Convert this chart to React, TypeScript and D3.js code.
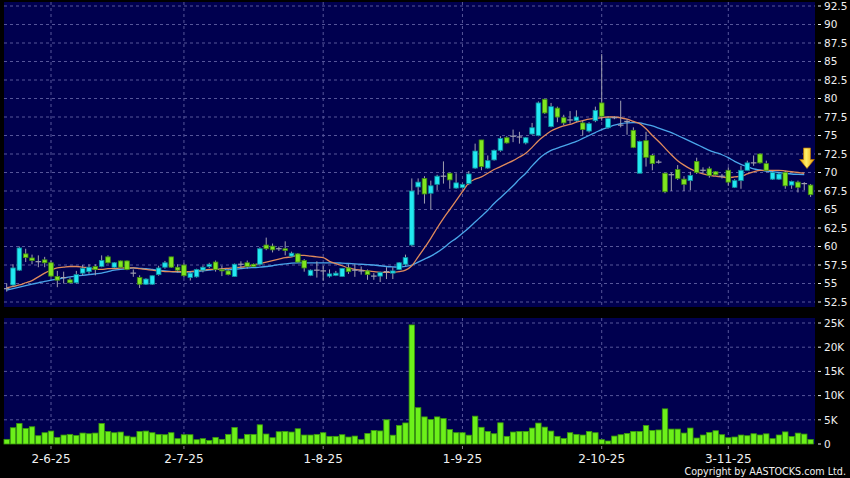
import React from "react";
import * as d3 from "d3";

// ---------- data ----------
const opens = [
  54.3, 54.8, 56.8, 59.0, 58.45, 57.95, 58.2, 57.8, 55.95, 55.8,
  55.5, 55.1, 56.4, 56.6, 57.3, 57.3, 58.6, 57.2, 58.05, 58.05,
  56.4, 55.8, 54.9, 54.9, 56.2, 57.2, 58.6, 57.2, 57.5, 55.8,
  55.9, 56.8, 57.3, 57.9, 56.9, 56.7, 55.95, 57.6, 57.8, 57.6,
  57.6, 60.2, 60.05, 59.7, 59.7, 58.7, 59.0, 58.1, 56.1, 56.8,
  56.7, 56.0, 56.1, 55.95, 57.1, 56.8, 56.7, 56.7, 56.0, 56.0,
  56.6, 56.4, 56.9, 57.6, 60.2, 68.05, 69.2, 67.2, 68.4, 69.5,
  69.9, 67.9, 67.95, 68.5, 70.6, 74.4, 70.6, 71.7, 73.0, 74.7,
  74.9, 74.8, 74.0, 75.2, 75.0, 79.9, 76.2, 78.7, 77.4, 77.1,
  77.0, 76.7, 75.6, 77.0, 79.4, 76.05, 77.4, 76.4, 76.9, 75.7,
  69.9, 74.3, 72.3, 71.4, 69.9, 69.7, 70.4, 69.1, 68.9, 71.5,
  70.3, 70.5, 70.1, 69.5, 70.3, 68.0, 68.9, 70.3, 71.3, 72.5,
  71.2, 69.1, 69.1, 70.0, 68.3, 68.7, 68.5, 68.3,
];
const highs = [
  55.0, 57.6, 60.0, 59.7, 58.9, 58.8, 58.6, 58.1, 56.7, 56.6,
  55.8, 56.7, 57.5, 57.6, 57.6, 58.8, 58.8, 57.9, 58.1, 58.1,
  56.9, 56.1, 55.7, 56.1, 57.4, 58.05, 58.6, 57.6, 57.8, 56.7,
  57.0, 57.4, 57.8, 58.1, 57.4, 56.9, 57.7, 58.0, 58.1, 57.7,
  59.9, 61.2, 60.4, 60.0, 60.7, 59.3, 59.1, 58.3, 56.9, 58.0,
  57.4, 56.9, 56.7, 57.1, 57.6, 57.6, 57.3, 56.9, 56.4, 56.6,
  57.2, 57.2, 57.9, 58.9, 69.2, 69.2, 69.5, 68.9, 69.7, 71.5,
  70.0, 69.9, 68.5, 70.2, 73.9, 74.4, 72.3, 73.1, 74.9, 74.9,
  75.8, 75.5, 74.8, 76.7, 79.6, 79.9, 79.4, 78.9, 77.8, 78.3,
  78.4, 77.0, 76.8, 78.9, 86.0, 77.6, 77.6, 79.7, 77.2, 76.1,
  74.3, 75.5, 72.5, 71.7, 70.0, 70.0, 71.0, 69.5, 70.1, 72.0,
  70.7, 70.8, 70.2, 69.8, 70.7, 69.1, 70.9, 71.6, 72.3, 72.6,
  71.6, 70.2, 70.0, 70.2, 68.9, 68.9, 68.7, 68.45,
];
const lows = [
  53.9, 54.5, 56.7, 57.9, 57.6, 57.2, 57.2, 55.8, 54.5, 55.0,
  55.0, 55.0, 56.1, 56.3, 56.1, 57.2, 57.7, 57.1, 57.1, 56.8,
  55.9, 54.4, 54.8, 54.8, 56.05, 57.0, 57.1, 56.5, 55.8, 55.4,
  55.8, 56.5, 57.1, 56.6, 56.0, 56.1, 55.9, 57.0, 57.0, 57.2,
  57.4, 59.5, 59.2, 59.4, 58.8, 58.6, 57.8, 56.6, 56.0, 55.8,
  55.4, 55.8, 56.0, 55.9, 56.3, 55.9, 56.2, 55.5, 55.5, 55.2,
  55.6, 55.6, 56.8, 57.4, 60.0, 67.0, 65.8, 65.0, 67.6, 68.5,
  67.8, 67.8, 67.9, 68.3, 70.5, 70.3, 70.5, 71.6, 72.8, 73.9,
  74.1, 73.9, 73.8, 75.1, 74.9, 77.9, 76.1, 76.8, 76.4, 76.6,
  76.8, 75.0, 75.4, 76.8, 77.0, 75.9, 77.2, 76.1, 75.1, 73.3,
  69.9, 70.8, 70.3, 71.2, 67.2, 67.5, 69.0, 67.5, 67.6, 69.8,
  69.9, 69.3, 69.6, 69.2, 68.2, 67.9, 67.8, 70.3, 70.9, 71.2,
  70.1, 69.0, 69.0, 67.8, 67.8, 67.3, 67.6, 66.7,
];
const closes = [
  54.3, 57.1, 59.8, 58.5, 58.1, 57.95, 57.8, 56.0, 55.45, 55.8,
  55.1, 56.2, 57.05, 57.2, 56.9, 58.1, 57.8, 57.8, 57.2, 56.9,
  56.4, 54.9, 55.6, 56.05, 57.1, 57.8, 57.2, 56.8, 56.05, 56.4,
  56.9, 57.2, 57.6, 56.9, 56.7, 56.2, 57.6, 57.6, 57.3, 57.3,
  59.7, 59.7, 59.55, 59.7, 59.45, 59.1, 57.9, 57.1, 56.8, 56.8,
  56.7, 56.3, 56.4, 57.05, 56.6, 56.8, 56.7, 56.2, 56.0, 56.5,
  56.6, 56.7, 57.8, 58.5, 67.5, 68.7, 67.1, 68.2, 69.5, 69.5,
  69.0, 68.6, 68.4, 69.8, 72.9, 70.8, 71.6, 73.0, 74.6, 74.0,
  74.9, 74.8, 74.7, 76.05, 79.4, 78.05, 78.9, 77.5, 76.7, 77.1,
  77.5, 75.8, 76.6, 78.4, 77.6, 77.3, 77.4, 76.4, 76.9, 73.4,
  74.2, 72.05, 71.2, 71.4, 67.4, 69.7, 69.2, 68.4, 69.6, 70.0,
  70.3, 69.6, 69.7, 69.5, 68.7, 68.9, 70.3, 71.3, 71.3, 71.3,
  70.3, 70.0, 69.8, 68.2, 68.8, 68.0, 68.5, 67.0,
];
// volume in thousands of shares
const volumes = [
  0.96, 3.36, 4.25, 3.22, 3.56, 1.71, 2.33, 2.67, 1.37, 1.85,
  1.99, 1.78, 2.26, 2.12, 2.26, 4.25, 2.6, 2.33, 2.47, 1.64,
  1.44, 2.6, 2.67, 2.33, 1.99, 1.92, 2.33, 1.1, 1.92, 1.92,
  0.89, 1.1, 0.75, 1.37, 0.96, 1.99, 3.43, 1.03, 1.99, 1.99,
  3.97, 2.06, 1.3, 2.53, 2.6, 2.47, 3.15, 1.85, 1.85, 1.99,
  2.33, 1.58, 1.58, 1.92, 1.44, 1.64, 0.89, 2.19, 2.8, 2.7,
  5.0, 1.82, 3.85, 4.35, 24.6, 7.5, 5.6, 5.05, 5.6, 5.25,
  2.98, 2.33, 2.33, 1.82, 5.75, 3.45, 2.6, 2.12, 4.38, 1.58,
  2.47, 2.6, 2.6, 3.29, 4.32, 3.49, 2.67, 1.58, 1.16, 2.33,
  1.99, 1.85, 2.6, 2.33, 0.89, 0.62, 1.64, 1.92, 2.19, 2.6,
  2.6, 3.84, 2.81, 2.9, 7.26, 3.08, 3.08, 2.26, 3.29, 1.23,
  1.85, 2.4, 2.74, 1.92, 1.3, 1.44, 1.85, 1.71, 2.12, 1.86,
  2.1, 1.1, 1.86, 2.5, 1.55, 2.25, 2.05, 0.93,
];
// moving averages as drawn (fast = orange, slow = blue)
const maFast = [
  54.4, 54.6, 54.8, 55.1, 55.4, 55.9, 56.4, 56.8, 57.1, 57.2,
  57.3, 57.3, 57.2, 57.1, 56.9, 56.9, 57.0, 57.0, 57.1, 57.1,
  57.1, 57.0, 56.9, 56.8, 56.7, 56.6, 56.6, 56.6, 56.6, 56.6,
  56.7, 56.8, 56.9, 56.9, 57.0, 57.05, 57.1, 57.2, 57.3, 57.5,
  57.7, 57.9, 58.1, 58.3, 58.5, 58.6, 58.8, 58.8, 58.7, 58.6,
  58.5, 58.0, 57.7, 57.4, 57.1, 56.9, 56.8, 56.7, 56.6, 56.5,
  56.5, 56.5, 56.6, 56.8, 57.4, 58.6, 59.8, 61.1, 62.5, 63.8,
  65.0, 66.2, 67.4, 68.6, 69.1, 69.4, 69.9, 70.4, 70.8, 71.2,
  71.6, 72.1, 72.6, 73.4, 74.3, 75.0, 75.6, 76.0, 76.3, 76.5,
  76.8, 77.0, 77.2, 77.3, 77.4, 77.5, 77.5, 77.4, 77.2, 76.9,
  76.6, 75.9, 75.0, 74.2, 73.3, 72.4, 71.6, 71.0, 70.5, 70.1,
  69.8, 69.6, 69.5, 69.4, 69.3, 69.4, 69.5, 69.8, 70.1, 70.3,
  70.3, 70.3, 70.3, 70.2, 70.1, 70.0, 69.9,
];
const maSlow = [
  54.1, 54.3, 54.5, 54.7, 54.9, 55.1, 55.3, 55.45, 55.6, 55.75,
  55.9, 56.0, 56.1, 56.2, 56.3, 56.4, 56.6, 56.8, 56.9, 57.0,
  57.1, 57.05, 57.0, 56.9, 56.8, 56.7, 56.6, 56.55, 56.5, 56.55,
  56.6, 56.7, 56.8, 56.9, 56.9, 56.85, 56.9, 57.0, 57.1, 57.15,
  57.2, 57.3, 57.4, 57.55, 57.65, 57.75, 57.8, 57.8, 57.8, 57.8,
  57.8, 57.8, 57.8, 57.75, 57.7, 57.65, 57.6, 57.55, 57.5, 57.4,
  57.3, 57.25, 57.2, 57.3, 57.5, 57.9, 58.3, 58.7, 59.2, 59.8,
  60.5, 61.1, 61.8, 62.5, 63.3, 64.1, 64.9, 65.8, 66.6, 67.4,
  68.2, 69.1, 69.9, 70.9, 71.8, 72.5, 73.0, 73.3, 73.6, 73.9,
  74.2, 74.6, 75.0, 75.4, 75.8, 76.1, 76.4, 76.6, 76.7, 76.75,
  76.7, 76.5, 76.3, 76.0, 75.7, 75.4, 75.0, 74.6, 74.2, 73.8,
  73.4, 73.0, 72.7, 72.4, 72.0, 71.5, 71.1, 70.8, 70.5, 70.35,
  70.2, 70.1, 70.0, 69.9, 69.8, 69.75, 69.7,
];
const dateLabels = ["2-6-25", "2-7-25", "1-8-25", "1-9-25", "2-10-25", "3-11-25"];
const dateIndex = [7, 28, 50, 72, 94, 114];
const priceTicks = [52.5, 55, 57.5, 60, 62.5, 65, 67.5, 70, 72.5, 75, 77.5, 80, 82.5, 85, 87.5, 90, 92.5];
const volumeTicks = [0, 5, 10, 15, 20, 25];
const volumeTickLabels = ["0", "5K", "10K", "15K", "20K", "25K"];
const copyright = "Copyright by AASTOCKS.com Ltd.";

// ---------- layout ----------
const W = 850;
const H = 478;
const plotLeft = 4;
const plotRight = 815;
const mainTop = 2;
const mainBottom = 307;
const volTop = 318;
const volBottom = 444;

const BG = "#000000";
const PANEL = "#00004f";
const GRID = "#56569a";
const UP_FILL = "#22e8f2";
const UP_STROKE = "#0d8d9c";
const DOWN_FILL = "#80e620";
const DOWN_STROKE = "#3e8a10";
const WICK = "#a0a0b0";
const VOL_FILL = "#6cf01a";
const VOL_STROKE = "#3a9a0a";
const TEXT = "#f0f0f0";
const FONT = "'DejaVu Sans', Verdana, sans-serif";

export default function App() {
  const n = closes.length;
  const x = d3.scaleLinear().domain([0, n - 1]).range([6.7, 810.6]);
  const y = d3.scaleLinear().domain([52.5, 92.5]).range([302, 6]);
  const yv = d3.scaleLinear().domain([0, 25]).range([volBottom, 323]);
  const bodyW = 4.6;
  const volW = 5.4;

  const lineFast = d3
    .line<number>()
    .x((_, i) => x(i))
    .y((d) => y(d))
    .curve(d3.curveMonotoneX);

  return (
    <div style={{ position: "fixed", left: 0, top: 0, width: W, height: H, background: BG }}>
      <svg width={W} height={H} style={{ display: "block" }} fontFamily={FONT}>
        <defs>
          <linearGradient id="arrowGrad" x1="0" y1="0" x2="1" y2="0">
            <stop offset="0" stopColor="#f0a000" />
            <stop offset="0.45" stopColor="#fff06a" />
            <stop offset="1" stopColor="#e89800" />
          </linearGradient>
          <clipPath id="mainClip">
            <rect x={plotLeft} y={mainTop} width={plotRight - plotLeft} height={mainBottom - mainTop} />
          </clipPath>
        </defs>
        <rect x={0} y={0} width={W} height={H} fill={BG} />
        {/* panels */}
        <rect x={plotLeft} y={mainTop} width={plotRight - plotLeft} height={mainBottom - mainTop} fill={PANEL} />
        <rect x={plotLeft} y={volTop} width={plotRight - plotLeft} height={volBottom - volTop} fill={PANEL} />

        {/* horizontal grid main */}
        {priceTicks.map((p) => (
          <line key={"hg" + p} x1={plotLeft} x2={plotRight} y1={y(p)} y2={y(p)} stroke={GRID} strokeDasharray="3,3" strokeWidth={1} />
        ))}
        {/* horizontal grid volume */}
        {volumeTicks.filter((v) => v > 0).map((v) => (
          <line key={"vg" + v} x1={plotLeft} x2={plotRight} y1={yv(v)} y2={yv(v)} stroke={GRID} strokeDasharray="3,3" strokeWidth={1} />
        ))}
        {/* vertical grid */}
        {dateIndex.map((di) => (
          <g key={"vgl" + di}>
            <line x1={x(di)} x2={x(di)} y1={mainTop} y2={mainBottom} stroke={GRID} strokeDasharray="3,3" />
            <line x1={x(di)} x2={x(di)} y1={volTop} y2={volBottom} stroke={GRID} strokeDasharray="3,3" />
          </g>
        ))}

        {/* volume bars */}
        {volumes.map((v, i) => (
          <rect
            key={"vb" + i}
            x={x(i) - volW / 2}
            y={yv(v)}
            width={volW}
            height={volBottom - yv(v)}
            fill={VOL_FILL}
            stroke={VOL_STROKE}
            strokeWidth={0.8}
          />
        ))}

        <g clipPath="url(#mainClip)">
          {/* moving averages */}
          <path d={lineFast(maSlow) || ""} fill="none" stroke="#4aa6ea" strokeWidth={1.3} />
          <path d={lineFast(maFast) || ""} fill="none" stroke="#e08a5c" strokeWidth={1.3} />

          {/* candles */}
          {closes.map((c, i) => {
            const o = opens[i];
            const cx = x(i);
            const doji = Math.abs(c - o) < 0.05;
            const up = c > o;
            const top = y(Math.max(o, c));
            const bot = y(Math.min(o, c));
            return (
              <g key={"c" + i}>
                <line x1={cx} x2={cx} y1={y(highs[i])} y2={y(lows[i])} stroke={WICK} strokeWidth={1} />
                {doji ? (
                  <line x1={cx - bodyW / 2 - 0.5} x2={cx + bodyW / 2 + 0.5} y1={top} y2={top} stroke={WICK} strokeWidth={1.2} />
                ) : (
                  <rect
                    x={cx - bodyW / 2}
                    y={top}
                    width={bodyW}
                    height={Math.max(1, bot - top)}
                    fill={up ? UP_FILL : DOWN_FILL}
                    stroke={up ? UP_STROKE : DOWN_STROKE}
                    strokeWidth={0.8}
                  />
                )}
              </g>
            );
          })}
        </g>

        {/* down arrow */}
        <path
          d="M803.5,148 L810.5,148 L810.5,159.5 L814.3,159.5 L807,168.5 L799.7,159.5 L803.5,159.5 Z"
          fill="url(#arrowGrad)"
          stroke="#b87400"
          strokeWidth={0.7}
        />

        {/* right price axis */}
        {priceTicks.map((p) => (
          <g key={"pt" + p}>
            <line x1={818} x2={821} y1={y(p)} y2={y(p)} stroke={TEXT} strokeWidth={1} />
            <text x={824} y={y(p)} dy="0.36em" fill={TEXT} fontSize={10.5}>
              {String(p)}
            </text>
          </g>
        ))}
        {/* right volume axis */}
        {volumeTicks.map((v, i) => (
          <g key={"vt" + v}>
            <line x1={818} x2={821} y1={yv(v)} y2={yv(v)} stroke={TEXT} strokeWidth={1} />
            <text x={824} y={yv(v)} dy="0.36em" fill={TEXT} fontSize={10.5}>
              {volumeTickLabels[i]}
            </text>
          </g>
        ))}

        {/* date axis */}
        {dateIndex.map((di, i) => (
          <g key={"dt" + di}>
            <line x1={x(di)} x2={x(di)} y1={volBottom + 2} y2={volBottom + 5} stroke="#888" strokeWidth={1} />
            <text x={x(di)} y={463} textAnchor="middle" fill={TEXT} fontSize={12}>
              {dateLabels[i]}
            </text>
          </g>
        ))}

        <text x={846} y={475} textAnchor="end" fill={TEXT} fontSize={9.6}>
          {copyright}
        </text>
      </svg>
    </div>
  );
}
